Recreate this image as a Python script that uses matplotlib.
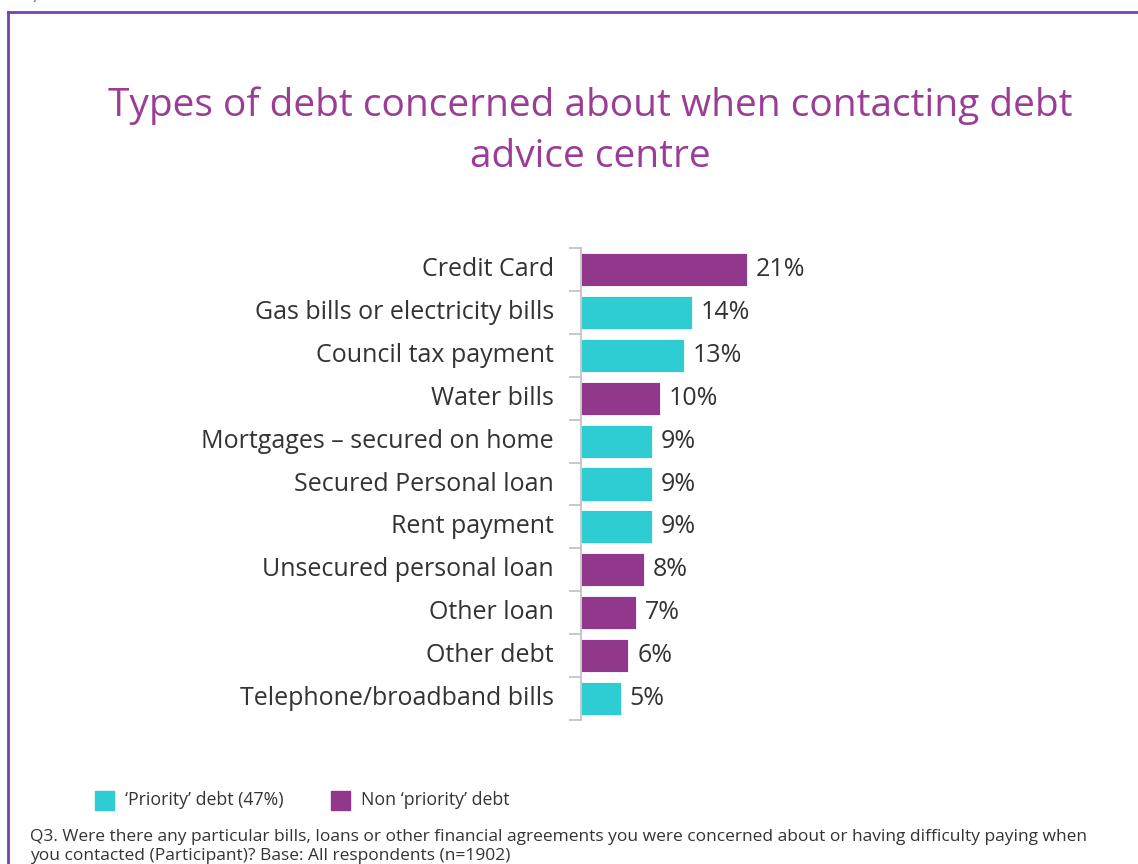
import matplotlib.pyplot as plt
import matplotlib.patches as mpatches
from matplotlib.lines import Line2D
import numpy as np

# Kategorie i wartości (%)
categories = [
    "Credit Card",
    "Gas bills or electricity bills",
    "Council tax payment",
    "Water bills",
    "Mortgages \u2013 secured on home",
    "Secured Personal loan",
    "Rent payment",
    "Unsecured personal loan",
    "Other loan",
    "Other debt",
    "Telephone/broadband bills",
]
values = [21, 14, 13, 10, 9, 9, 9, 8, 7, 6, 5]
priority = [False, True, True, False, True, True, True, False, False, False, True]

legend_labels = ["\u2018Priority\u2019 debt (47%)", "Non \u2018priority\u2019 debt"]
title = "Types of debt concerned about when contacting debt\nadvice centre"
footnote = ("Q3. Were there any particular bills, loans or other financial agreements you were concerned about or having difficulty paying when\n"
            "you contacted (Participant)? Base: All respondents (n=1902)")

CYAN = "#2DCDD3"
PURPLE = "#92388C"
TITLE_C = "#9B3D96"
FRAME_C = "#7E3FAE"
TEXT_C = "#333333"

W, H = 1138, 864
fig = plt.figure(figsize=(W / 100, H / 100), dpi=100)
plt.rcParams['font.family'] = ['Open Sans', 'DejaVu Sans']

# Ramka
fig.add_artist(Line2D([8 / W, 1.0], [1 - 12 / H, 1 - 12 / H], color=FRAME_C, lw=2))
fig.add_artist(Line2D([8 / W, 8 / W], [1 - 12 / H, 0], color=FRAME_C, lw=2))
fig.text(18 / W, 1 + 6 / H, "%).", color="#777777", fontsize=13, ha="left", va="center")

# Tytuł
fig.text(590 / W, 1 - 131 / H, title, color=TITLE_C, fontsize=28, ha="center",
         va="center", linespacing=1.45)

# Wykres słupkowy
ax = fig.add_axes([581 / W, 1 - 720 / H, 237 / W, 472 / H])
y = np.arange(len(categories))
colors = [CYAN if p else PURPLE for p in priority]
ax.barh(y, values, height=0.77, color=colors, edgecolor="white", linewidth=0.6)
ax.set_xlim(0, 30)
ax.set_ylim(len(categories) - 0.5, -0.5)
ax.set_xticks([])
ax.set_yticks([])
ax.set_yticks(np.arange(-0.5, len(categories)), minor=True)
ax.tick_params(axis="y", which="minor", length=9, width=1.2, color="#BFBFBF", direction="out")
ax.set_yticklabels([], minor=True)
for s in ["top", "right", "bottom"]:
    ax.spines[s].set_visible(False)
ax.spines["left"].set_color("#BFBFBF")
ax.spines["left"].set_linewidth(1.2)
ax.patch.set_alpha(0)

for yi, (cat, v) in enumerate(zip(categories, values)):
    ax.annotate(cat, (0, yi), xytext=(-27, 0), textcoords="offset pixels",
                ha="right", va="center", fontsize=18, color=TEXT_C)
    ax.annotate(f"{v}%", (v, yi), xytext=(9, 0), textcoords="offset pixels",
                ha="left", va="center", fontsize=18, color=TEXT_C)

# Legenda
for x0, col, lab in [(95, CYAN, legend_labels[0]), (331, PURPLE, legend_labels[1])]:
    fig.add_artist(mpatches.Rectangle((x0 / W, 1 - 810 / H), 19 / W, 19 / H,
                                      color=col, transform=fig.transFigure))
    fig.text((x0 + 30) / W, 1 - 800 / H, lab, fontsize=12.8, color=TEXT_C,
             ha="left", va="center")

# Przypis
fig.text(30 / W, 1 - 838 / H, footnote, fontsize=12.5, color=TEXT_C, ha="left",
         va="top", linespacing=1.25).set_y(1 - 829 / H)

fig.savefig("out.png", dpi=100)
